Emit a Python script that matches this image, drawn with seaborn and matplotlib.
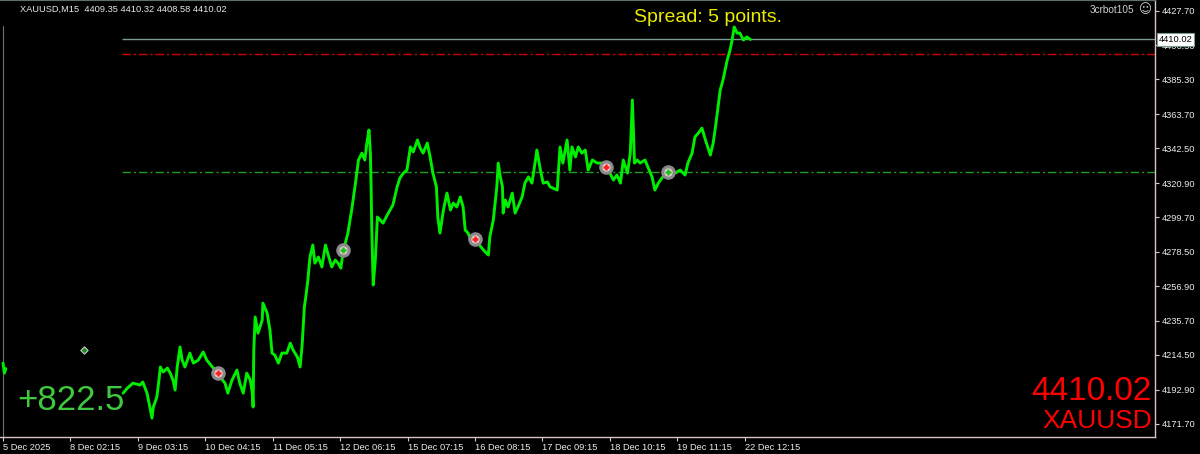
import numpy as np
import pandas as pd
import seaborn as sns
import matplotlib
matplotlib.use('Agg')
import matplotlib.pyplot as plt
from matplotlib.transforms import blended_transform_factory

# Dark terminal-like style
sns.set_style('dark', {'axes.facecolor': 'black', 'figure.facecolor': 'black'})
plt.rcParams['font.family'] = ['Liberation Sans', 'DejaVu Sans']

# ---- data (M15 bar index, close price) ----
first_bar = [0, 2, 4]
first_price = [4209.4, 4203.2, 4206.0]

main_bar = [171, 177, 185, 195, 199, 205, 209, 212, 214, 219, 222, 224, 228, 234, 238, 242, 245, 248,
            252, 255, 259, 266, 271, 278, 285, 290, 298, 305, 309, 316, 320, 326, 333, 337, 342, 347,
            352, 355, 356, 357, 359, 363, 369, 370, 376, 380, 383, 387, 392, 397, 404, 409, 413, 419,
            423, 426, 429, 431, 434, 437, 441, 444, 449, 454, 459, 463, 468, 473, 477, 481, 484, 491,
            497, 501, 506, 511, 515, 518, 521, 523, 524, 525, 527, 530, 533, 537, 541, 547, 551, 555,
            561, 565, 570, 575, 580, 584, 590, 594, 598, 604, 608, 612, 617, 619, 622, 627, 632, 637,
            641, 646, 651, 655, 658, 662, 668, 672, 676, 684, 691, 693, 698, 703, 705, 708, 711, 712,
            715, 719, 725, 729, 733, 739, 743, 748, 753, 758, 760, 765, 769, 775, 779, 783, 789, 793,
            797, 803, 807, 810, 815, 819, 824, 829, 833, 839, 846, 854, 860, 864, 869, 874, 879, 883,
            889, 893, 896, 897, 899, 903, 907, 914, 918, 924, 928, 933, 938, 944, 950, 957, 964, 971,
            975, 981, 985, 990, 995, 1000, 1007, 1011, 1015, 1018, 1021, 1025, 1031, 1035, 1038, 1041,
            1045, 1049, 1054, 1059, 1064]
main_price = [4190.8, 4193.9, 4197.0, 4195.8, 4197.7, 4190.8, 4182.2, 4175.3, 4182.2, 4188.4, 4198.9,
              4207.0, 4203.9, 4206.3, 4203.2, 4198.9, 4192.7, 4207.0, 4219.4, 4211.3, 4207.0, 4215.6,
              4209.4, 4211.3, 4216.3, 4211.3, 4207.0, 4203.9, 4200.8, 4197.0, 4190.8, 4198.9, 4205.1,
              4197.0, 4190.8, 4203.2, 4198.9, 4190.8, 4182.2, 4217.5, 4238.0, 4228.0, 4236.1, 4246.6,
              4240.4, 4229.9, 4215.6, 4214.4, 4209.4, 4215.6, 4215.6, 4221.8, 4217.5, 4213.2, 4207.0,
              4221.8, 4244.2, 4250.4, 4260.9, 4275.2, 4282.6, 4271.4, 4275.2, 4269.0, 4282.6, 4276.4,
              4269.0, 4273.3, 4271.4, 4268.3, 4278.3, 4290.0, 4306.2, 4318.6, 4335.3, 4339.6, 4335.3,
              4345.8, 4353.9, 4339.6, 4318.6, 4291.9, 4257.8, 4273.3, 4300.0, 4298.1, 4296.2, 4301.2,
              4304.3, 4307.4, 4318.6, 4324.1, 4327.2, 4329.1, 4343.4, 4340.3, 4347.7, 4342.7, 4339.6,
              4345.8, 4337.2, 4327.2, 4318.6, 4300.0, 4290.0, 4304.3, 4314.8, 4304.3, 4308.6, 4306.2,
              4312.4, 4306.2, 4291.9, 4290.0, 4283.8, 4286.9, 4283.8, 4279.5, 4276.4, 4287.6, 4298.1,
              4318.6, 4333.4, 4324.8, 4318.6, 4302.4, 4310.5, 4306.2, 4314.8, 4302.4, 4306.2, 4312.4,
              4321.0, 4324.8, 4321.0, 4335.3, 4341.5, 4329.1, 4321.0, 4321.7, 4318.6, 4317.9, 4316.7,
              4343.4, 4333.4, 4347.7, 4329.1, 4343.4, 4337.2, 4343.4, 4339.6, 4341.5, 4329.1, 4335.3,
              4333.4, 4333.4, 4330.3, 4327.2, 4322.9, 4326.0, 4321.0, 4335.3, 4327.2, 4339.6, 4372.5,
              4360.1, 4333.4, 4335.3, 4333.4, 4335.3, 4331.0, 4324.8, 4316.7, 4321.0, 4324.1, 4327.2,
              4327.9, 4327.2, 4329.1, 4326.0, 4333.4, 4339.6, 4349.6, 4352.0, 4355.1, 4347.7, 4338.4,
              4345.8, 4358.2, 4368.2, 4378.7, 4384.9, 4397.3, 4403.5, 4409.7, 4417.8, 4414.0, 4414.0,
              4409.7, 4411.6, 4410.02]

# trade markers
deal_bar = [306, 484, 672, 859, 947]
deal_price = [4203.2, 4279.5, 4286.3, 4330.9, 4327.9]
deal_side = ['sell', 'buy', 'sell', 'sell', 'buy']
arrow_bar = [115]
arrow_price = [4217.5]

# horizontal levels
bid_price = 4410.02
red_level = 4401.0
green_level = 4327.9
level_start = 169

x_labels = ['5 Dec 2025', '8 Dec 02:15', '9 Dec 03:15', '10 Dec 04:15', '11 Dec 05:15',
            '12 Dec 06:15', '15 Dec 07:15', '16 Dec 08:15', '17 Dec 09:15', '18 Dec 10:15',
            '19 Dec 11:15', '22 Dec 12:15']
bars_per_label = 96
y_ticks = [4427.70, 4406.50, 4385.30, 4363.70, 4342.50, 4320.90, 4299.70, 4278.50, 4256.90,
           4235.70, 4214.50, 4192.90, 4171.70]

profit_text = '+822.5'
symbol = 'XAUUSD'
header = 'XAUUSD,M15  4409.35 4410.32 4408.58 4410.02'

# ---- figure ----
fig = plt.figure(figsize=(12, 4.54), dpi=100)
ax = fig.add_axes([0, 17 / 454, 1155 / 1200, 437 / 454])
xmax = 1640
ax.set_xlim(-4.3, xmax)
ax.set_ylim(4163.6, 4434.5)

df = pd.DataFrame({
    'bar': first_bar + main_bar,
    'price': first_price + main_price,
    'seg': [0] * len(first_bar) + [1] * len(main_bar),
})
sns.lineplot(data=df, x='bar', y='price', units='seg', estimator=None, sort=False,
             color='#00ee00', lw=2.1, ax=ax, zorder=3)

ax.hlines(bid_price, level_start, xmax, color='#7a9a90', lw=1, zorder=2)
ax.hlines(red_level, level_start, xmax, color='#d00000', lw=1, linestyles=[(0, (6, 2.2, 1.5, 2.2))], zorder=2)
ax.hlines(green_level, level_start, xmax, color='#1f9e1f', lw=1, linestyles=[(0, (6, 2.2, 1.5, 2.2))], zorder=2)
ax.axvline(0, color='#707070', lw=0.8, ymax=0.94, zorder=1)

# deal markers
for b, p, s in zip(deal_bar, deal_price, deal_side):
    c = '#ff2020' if s == 'sell' else '#20c020'
    ax.scatter([b], [p], s=110, color='#8a8a8a', zorder=5, linewidths=0)
    ax.scatter([b], [p], s=35, color='#e8d0d0', zorder=6, linewidths=0)
    ax.scatter([b], [p], s=22, marker='+', color=c, linewidths=1.8, zorder=7)
ax.scatter(arrow_bar, arrow_price, s=14, marker='D', facecolor='#1a8a1a', edgecolor='#c8c8c8',
           linewidths=0.8, zorder=5)

# axes / ticks
ax.set_xlabel('')
ax.set_ylabel('')
ax.grid(False)
ax.set_xticks(np.arange(len(x_labels)) * bars_per_label)
ax.set_xticklabels(x_labels, ha='left')
ax.yaxis.tick_right()
ax.set_yticks(y_ticks)
ax.set_yticklabels([f'{v:.2f}' for v in y_ticks])
ax.tick_params(axis='x', bottom=True, colors='#d8c8c8', labelcolor='#ececec', length=3,
               width=0.8, pad=1.5, labelsize=6.7, direction='out')
ax.tick_params(axis='y', right=True, left=False, colors='#d8c8c8', labelcolor='#ececec', length=3,
               width=0.8, pad=1.5, labelsize=6.7, direction='out')
for side in ['right', 'bottom']:
    ax.spines[side].set_visible(True)
    ax.spines[side].set_color('#d9c3c3')
    ax.spines[side].set_linewidth(1)
ax.spines['top'].set_visible(True)
ax.spines['top'].set_color('#5d7070')
ax.spines['left'].set_visible(False)

# current price tag
tr = blended_transform_factory(ax.transAxes, ax.transData)
ax.text(1.003, bid_price, f'{bid_price:.2f}', transform=tr, ha='left', va='center', fontsize=6.7,
        color='black', clip_on=False, zorder=10,
        bbox=dict(boxstyle='square,pad=0.2', facecolor='white', edgecolor='#7a9a90', lw=0.8))

# overlay texts
fig.text(17 / 1200, 1 - 400 / 454, profit_text, fontsize=25, color='#3ec93e', va='center', ha='left')
fig.text(1152 / 1200, 1 - 391 / 454, f'{bid_price:.2f}', fontsize=24, color='#ff0000', va='center', ha='right')
fig.text(1152 / 1200, 1 - 421 / 454, symbol, fontsize=19, color='#ff0000', va='center', ha='right')
fig.text(708 / 1200, 1 - 18 / 454, 'Spread: 5 points.', fontsize=14, color='#ecec00', va='center', ha='center')
fig.text(1134 / 1200, 1 - 10 / 454, '3crbot105', fontsize=7.2, color='#d0d0d0', va='center', ha='right')
fig.text(1145 / 1200, 1 - 10 / 454, '\u263a', fontsize=9, color='#d0d0d0', va='center', ha='center',
         family=['DejaVu Sans'])
fig.text(20 / 1200, 1 - 9 / 454, header, fontsize=6.7, color='#e8e8e8', va='center', ha='left')

fig.savefig('out.png', dpi=100, facecolor='black')
